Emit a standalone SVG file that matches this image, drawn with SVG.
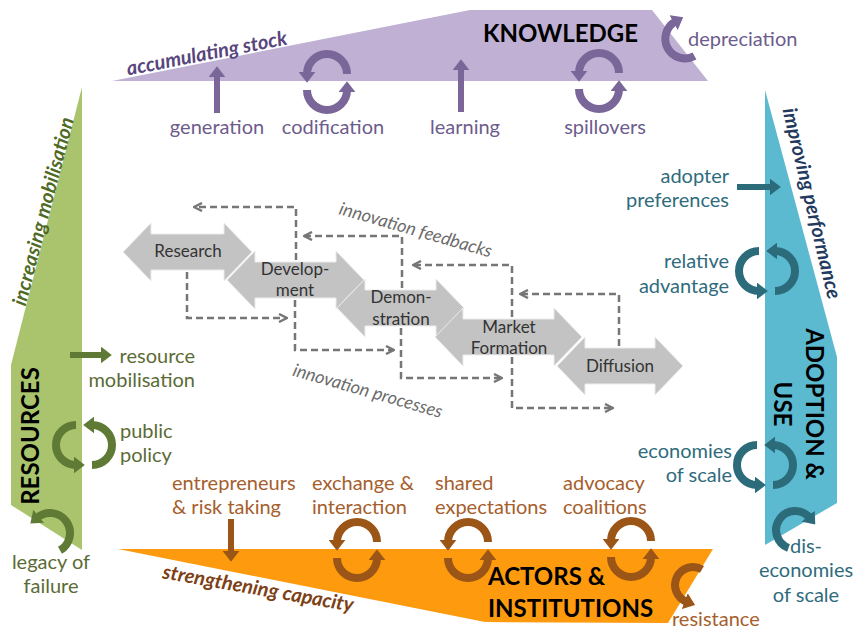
<svg xmlns="http://www.w3.org/2000/svg" width="855" height="630" viewBox="0 0 855 630">
<defs>
<style>
text{font-family:Lato,"Open Sans","DejaVu Sans",sans-serif;}
.lbl{font-size:20px;}
.title{font-size:24px;font-weight:bold;fill:#000;}
.it{font-style:italic;font-weight:bold;font-size:20px;}
.git{font-style:italic;font-size:18px;fill:#6b6b6b;}
.pt{font-size:17px;fill:#333;text-anchor:middle;}
.node{fill:#c3c3c3;stroke:#ececec;stroke-width:1;}
.dash{fill:none;stroke:#767676;stroke-width:2.5;stroke-dasharray:7 4;marker-end:url(#chev);}
.tP{fill:#6d5c8d;} .tG{fill:#5b6b35;} .tB{fill:#2f6b7d;} .tO{fill:#a55e2c;}
.sP{fill:none;stroke:#7b6699;stroke-width:6;marker-end:url(#mP);}
.sG{fill:none;stroke:#5f7a34;stroke-width:6;marker-end:url(#mG);}
.sB{fill:none;stroke:#2b6b7a;stroke-width:6;marker-end:url(#mB);}
.sO{fill:none;stroke:#9b5516;stroke-width:6;marker-end:url(#mO);}
.cP{fill:none;stroke:#7b6699;stroke-width:8;marker-end:url(#mP);}
.cG{fill:none;stroke:#5f7a34;stroke-width:8;marker-end:url(#mG);}
.cB{fill:none;stroke:#2b6b7a;stroke-width:8;marker-end:url(#mB);}
.cO{fill:none;stroke:#9b5516;stroke-width:8;marker-end:url(#mO);}
</style>
<marker id="mP" viewBox="0 0 10 10" refX="2" refY="5" markerWidth="11" markerHeight="17" preserveAspectRatio="none" markerUnits="userSpaceOnUse" orient="auto"><path d="M0,0 L10,5 L0,10 z" fill="#7b6699"/></marker>
<marker id="mG" viewBox="0 0 10 10" refX="2" refY="5" markerWidth="11" markerHeight="17" preserveAspectRatio="none" markerUnits="userSpaceOnUse" orient="auto"><path d="M0,0 L10,5 L0,10 z" fill="#5f7a34"/></marker>
<marker id="mB" viewBox="0 0 10 10" refX="2" refY="5" markerWidth="11" markerHeight="17" preserveAspectRatio="none" markerUnits="userSpaceOnUse" orient="auto"><path d="M0,0 L10,5 L0,10 z" fill="#2b6b7a"/></marker>
<marker id="mO" viewBox="0 0 10 10" refX="2" refY="5" markerWidth="11" markerHeight="17" preserveAspectRatio="none" markerUnits="userSpaceOnUse" orient="auto"><path d="M0,0 L10,5 L0,10 z" fill="#9b5516"/></marker>
<marker id="chev" viewBox="0 0 10 10" refX="9" refY="5" markerWidth="10" markerHeight="10" markerUnits="userSpaceOnUse" orient="auto"><path d="M1,1 L9,5 L1,9" fill="none" stroke="#767676" stroke-width="2.4"/></marker>
</defs>
<rect width="855" height="630" fill="#fff"/>

<g id="knowledge">
<polygon points="112,81 470,10 652,10 708,81" fill="#bfb0d4"/>
<text class="title" x="483" y="42">KNOWLEDGE</text>
<text class="it" fill="#58457d" text-anchor="middle" transform="translate(208,60) rotate(-11)">accumulating stock</text>
</g>
<g id="resources">
<polygon points="82,87 82,550 11,505 11,365" fill="#a9c46d"/>
<text class="title" text-anchor="middle" transform="translate(39,436) rotate(-90)">RESOURCES</text>
<text class="it" fill="#4f6a26" text-anchor="middle" dominant-baseline="central" transform="translate(42,211) rotate(-75.5)">increasing mobilisation</text>
</g>
<g id="adoption">
<polygon points="765,90 837,357 837,503 765,545" fill="#5bb9d0"/>
<text class="title" text-anchor="middle" transform="translate(806,404) rotate(90)">ADOPTION &amp;</text>
<text class="title" text-anchor="middle" transform="translate(774,404) rotate(90)">USE</text>
<text class="it" fill="#233a5e" text-anchor="middle" dominant-baseline="central" transform="translate(813,203) rotate(76.5)">improving performance</text>
</g>
<g id="actors">
<polygon points="118,549 713,549 668,623 485,622" fill="#fd9a0d"/>
<text class="title" x="488" y="585">ACTORS &amp;</text>
<text class="title" x="488" y="617">INSTITUTIONS</text>
<text class="it" fill="#7d4015" text-anchor="middle" transform="translate(257,595) rotate(10)">strengthening capacity</text>
</g>

<g id="generation"><path class="sP" d="M217,113 V75"/><text class="lbl tP" x="217" y="134" text-anchor="middle">generation</text></g>
<g id="codification"><path class="cP" d="M347,74 A20 20 0 0 0 307,74"/><path class="cP" d="M307,90 A20 20 0 0 0 347,90"/><text class="lbl tP" x="333" y="134" text-anchor="middle">codification</text></g>
<g id="learning"><path class="sP" d="M461,112 V68"/><text class="lbl tP" x="465" y="134" text-anchor="middle">learning</text></g>
<g id="spillovers"><path class="cP" d="M619,73 A20 20 0 0 0 579,73"/><path class="cP" d="M579,89 A20 20 0 0 0 619,89"/><text class="lbl tP" x="605" y="134" text-anchor="middle">spillovers</text></g>
<g id="depreciation"><path class="cP" d="M694.5,56 A19 19 0 1 1 675.5,21.5"/><text class="lbl tP" x="688" y="46">depreciation</text></g>

<g id="resource-mobilisation"><path class="sG" d="M70,355 H103"/><text class="lbl tG" x="195" y="363" text-anchor="end">resource</text><text class="lbl tG" x="195" y="387" text-anchor="end">mobilisation</text></g>
<g id="public-policy"><path class="cG" d="M76,425 A20 20 0 0 0 76,465"/><path class="cG" d="M92,465 A20 20 0 0 0 92,425"/><text class="lbl tG" x="120" y="438">public</text><text class="lbl tG" x="120" y="462">policy</text></g>
<g id="legacy-of-failure"><path class="cG" d="M60,550.3 A20 20 0 1 0 37.1,517.7"/><text class="lbl tG" x="51" y="569" text-anchor="middle">legacy of</text><text class="lbl tG" x="51" y="593" text-anchor="middle">failure</text></g>

<g id="adopter-preferences"><path class="sB" d="M737,187 H772"/><text class="lbl tB" x="729" y="183" text-anchor="end">adopter</text><text class="lbl tB" x="729" y="207" text-anchor="end">preferences</text></g>
<g id="relative-advantage"><path class="cB" d="M759,251 A20 20 0 0 0 759,291"/><path class="cB" d="M775,291 A20 20 0 0 0 775,251"/><text class="lbl tB" x="729" y="268" text-anchor="end">relative</text><text class="lbl tB" x="729" y="293" text-anchor="end">advantage</text></g>
<g id="economies-of-scale"><path class="cB" d="M757,445 A20 20 0 0 0 757,485"/><path class="cB" d="M773,485 A20 20 0 0 0 773,445"/><text class="lbl tB" x="732" y="458" text-anchor="end">economies</text><text class="lbl tB" x="732" y="482" text-anchor="end">of scale</text></g>
<g id="dis-economies-of-scale"><path class="cB" d="M788.5,547.9 A19 19 0 1 1 809.6,517.8"/><text class="lbl tB" x="806" y="553" text-anchor="middle">dis-</text><text class="lbl tB" x="806" y="577" text-anchor="middle">economies</text><text class="lbl tB" x="806" y="602" text-anchor="middle">of scale</text></g>

<g id="entrepreneurs"><path class="sO" d="M231,519 V553"/><text class="lbl tO" x="172" y="490">entrepreneurs</text><text class="lbl tO" x="172" y="514">&amp; risk taking</text></g>
<g id="exchange"><path class="cO" d="M377,542 A20 20 0 0 0 337,542"/><path class="cO" d="M337,558 A20 20 0 0 0 377,558"/><text class="lbl tO" x="312" y="490">exchange &amp;</text><text class="lbl tO" x="312" y="514">interaction</text></g>
<g id="shared-expectations"><path class="cO" d="M488,542 A20 20 0 0 0 448,542"/><path class="cO" d="M448,558 A20 20 0 0 0 488,558"/><text class="lbl tO" x="435" y="490">shared</text><text class="lbl tO" x="435" y="514">expectations</text></g>
<g id="advocacy-coalitions"><path class="cO" d="M651,541 A20 20 0 0 0 611,541"/><path class="cO" d="M611,557 A20 20 0 0 0 651,557"/><text class="lbl tO" x="563" y="490">advocacy</text><text class="lbl tO" x="563" y="514">coalitions</text></g>
<g id="resistance"><path class="cO" d="M702,569.4 A18 18 0 1 0 686.8,601.9"/><text class="lbl tO" x="672" y="626">resistance</text></g>

<g id="research"><polygon class="node" points="123,252 151,223 151,234 224,234 224,223 252,252 224,281 224,270 151,270 151,281"/><text class="pt" x="188" y="257">Research</text></g>
<g id="development"><polygon class="node" points="227,280 255,251 255,262 336,262 336,251 364,280 336,309 336,298 255,298 255,309"/><text class="pt" x="295" y="275">Develop-</text><text class="pt" x="295" y="296">ment</text></g>
<g id="demonstration"><polygon class="node" points="337,308 365,279 365,290 436,290 436,279 464,308 436,337 436,326 365,326 365,337"/><text class="pt" x="401" y="303">Demon-</text><text class="pt" x="401" y="325">stration</text></g>
<g id="market-formation"><polygon class="node" points="435,337 463,308 463,319 554,319 554,308 582,337 554,366 554,355 463,355 463,366"/><text class="pt" x="509" y="333">Market</text><text class="pt" x="509" y="354">Formation</text></g>
<g id="diffusion"><polygon class="node" points="557,366 585,337 585,348 655,348 655,337 683,366 655,395 655,384 585,384 585,395"/><text class="pt" x="620" y="372">Diffusion</text></g>

<g id="connectors">
<path class="dash" d="M296,260 V207 H194"/>
<path class="dash" d="M402,288 V236 H304"/>
<path class="dash" d="M512,317 V265 H413"/>
<path class="dash" d="M619,346 V294 H520"/>
<path class="dash" d="M187,272 V318 H287"/>
<path class="dash" d="M295,300 V350 H394"/>
<path class="dash" d="M401,328 V378 H502"/>
<path class="dash" d="M512,357 V408 H613"/>
<text class="git" text-anchor="middle" dominant-baseline="central" transform="translate(416,229) rotate(16)">innovation feedbacks</text>
<text class="git" text-anchor="middle" dominant-baseline="central" transform="translate(368,390) rotate(16)">innovation processes</text>
</g>
</svg>
